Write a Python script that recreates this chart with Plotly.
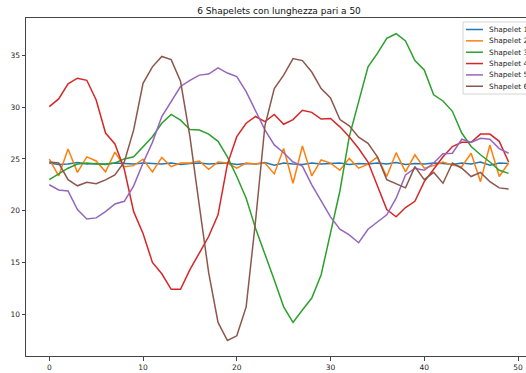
import plotly.graph_objects as go

# x positions of the 50 samples in each shapelet
steps = list(range(50))

series_names = ["Shapelet 1", "Shapelet 2", "Shapelet 3",
                "Shapelet 4", "Shapelet 5", "Shapelet 6"]

shapelet_1 = [24.6, 24.45, 24.5, 24.65, 24.5, 24.55, 24.45, 24.6, 24.55, 24.5,
              24.6, 24.55, 24.5, 24.6, 24.45, 24.55, 24.6, 24.5, 24.55, 24.6,
              24.45, 24.55, 24.5, 24.65, 24.4, 24.6, 24.5, 24.45, 24.6, 24.5,
              24.55, 24.6, 24.45, 24.55, 24.5, 24.6, 24.5, 24.65, 24.45, 24.55,
              24.5, 24.6, 24.55, 24.45, 24.6, 24.5, 24.7, 24.4, 24.6, 24.55]

shapelet_2 = [24.97, 23.35, 25.95, 23.7, 25.2, 24.8, 23.75, 25.65, 24.25, 24.35,
              24.97, 23.75, 25.15, 24.25, 24.6, 24.6, 24.8, 24.0, 24.7, 24.6,
              24.1, 24.6, 24.5, 24.6, 23.55, 26.0, 22.65, 26.25, 23.35, 24.9,
              24.6, 23.9, 25.05, 24.1, 24.5, 25.2, 23.3, 25.6, 23.75, 25.4,
              24.1, 24.35, 24.7, 24.4, 24.25, 25.55, 22.8, 26.35, 23.3, 24.6]

shapelet_3 = [23.0, 23.55, 24.1, 24.5, 24.6, 24.5, 24.5, 24.6, 25.0, 25.2,
              26.2, 27.15, 28.45, 29.3, 28.75, 27.85, 27.8, 27.4, 26.7, 25.2,
              23.3, 21.2, 18.3, 15.9, 13.3, 10.7, 9.2, 10.4, 11.55, 13.8,
              17.8, 21.9, 27.15, 30.5, 33.9, 35.2, 36.65, 37.1, 36.4, 34.5,
              33.6, 31.2, 30.6, 29.6, 27.5, 26.2, 25.4, 24.7, 23.9, 23.6]

shapelet_4 = [30.05, 30.8, 32.25, 32.8, 32.6, 30.7, 27.5, 26.45, 24.0, 19.9,
              17.8, 15.0, 13.9, 12.4, 12.4, 14.3, 15.9, 17.5, 19.6, 24.5,
              27.15, 28.45, 29.1, 28.6, 29.3, 28.35, 28.8, 29.7, 29.5, 28.85,
              28.9, 28.1, 27.15, 26.0, 24.7, 22.3, 20.1, 19.4, 20.3, 20.9,
              22.8, 24.0, 25.2, 26.2, 26.6, 26.6, 27.4, 27.4, 26.7, 24.7]

shapelet_5 = [22.5, 22.0, 21.9, 20.1, 19.2, 19.3, 19.9, 20.65, 20.9, 22.4,
              24.6, 26.6, 29.1, 30.5, 32.0, 32.6, 33.1, 33.2, 33.8, 33.3,
              32.95, 31.5, 29.7, 27.8, 26.35, 25.6, 24.7, 24.3, 22.5, 20.9,
              19.4, 18.2, 17.65, 16.9, 18.2, 18.9, 19.6, 21.2, 23.45, 24.1,
              23.9, 24.6, 25.5, 25.55, 26.9, 26.6, 27.0, 26.9, 26.0, 25.55]

shapelet_6 = [24.7, 24.6, 23.0, 22.4, 22.75, 22.6, 22.97, 23.45, 24.7, 27.8,
              32.3, 33.9, 34.9, 34.6, 32.5, 27.15, 20.5, 14.0, 9.2, 7.45,
              7.9, 10.7, 19.0, 28.2, 31.8, 33.1, 34.7, 34.5, 33.4, 31.8,
              30.9, 28.8, 28.2, 27.1, 26.5, 25.2, 23.0, 22.6, 22.2, 24.25,
              23.0, 23.7, 22.65, 24.6, 24.1, 23.3, 23.7, 22.8, 22.2, 22.1]

x_ticks = [0, 10, 20, 30, 40, 50]
y_ticks = [10, 15, 20, 25, 30, 35]

all_series = [shapelet_1, shapelet_2, shapelet_3, shapelet_4, shapelet_5, shapelet_6]
colors = ["#1f77b4", "#ff7f0e", "#2ca02c", "#d62728", "#9467bd", "#8c564b"]

W, H = 526, 373
ML, MR, MT, MB = 26, 0, 18, 17
plot_w = W - ML - MR
plot_h = H - MT - MB

FONT = "DejaVu Sans"
TEXT = "#262626"


def px(xpix):
    return (xpix - ML) / plot_w


def py(ypix):
    return (H - MB - ypix) / plot_h


fig = go.Figure()
for name, vals, col in zip(series_names, all_series, colors):
    fig.add_trace(go.Scatter(x=steps, y=vals, mode="lines", name=name,
                             line=dict(color=col, width=1.5),
                             showlegend=False))

# legend frame, handles and labels (upper right, running past the right edge)
shapes = [dict(type="rect", xref="paper", yref="paper",
               x0=px(463), x1=px(570), y0=py(94), y1=py(22),
               line=dict(color="#d4d4d4", width=1),
               fillcolor="rgba(255,255,255,0.85)", layer="above")]
annotations = []
row0, row_step = 29.5, 11.35
for i, (name, col) in enumerate(zip(series_names, colors)):
    yc = row0 + i * row_step
    shapes.append(dict(type="line", xref="paper", yref="paper",
                       x0=px(466), x1=px(483), y0=py(yc), y1=py(yc),
                       line=dict(color=col, width=1.5), layer="above"))
    annotations.append(dict(xref="paper", yref="paper", x=px(486.5), y=py(yc),
                            text=name, showarrow=False, xanchor="left",
                            yanchor="middle",
                            font=dict(family=FONT, size=7.3, color=TEXT)))

fig.update_layout(
    width=W, height=H,
    margin=dict(l=ML, r=MR, t=MT, b=MB, pad=0),
    paper_bgcolor="white", plot_bgcolor="white",
    title=dict(text="6 Shapelets con lunghezza pari a 50",
               x=279 / W, xref="container", xanchor="center",
               y=1 - 11 / H, yref="container", yanchor="middle",
               font=dict(family=FONT, size=9, color="#111")),
    shapes=shapes, annotations=annotations,
    xaxis=dict(range=[-2.486, 50.853], tickvals=x_ticks,
               showgrid=False, zeroline=False,
               showline=True, mirror=True, linecolor="#444", linewidth=1,
               ticks="outside", ticklen=3.5, tickwidth=1, tickcolor="#444",
               tickfont=dict(family=FONT, size=7.5, color=TEXT),
               automargin=False),
    yaxis=dict(range=[5.95, 38.62], tickvals=y_ticks,
               showgrid=False, zeroline=False,
               showline=True, mirror=False, linecolor="#444", linewidth=1,
               ticks="outside", ticklen=3.5, tickwidth=1, tickcolor="#444",
               tickfont=dict(family=FONT, size=7.5, color=TEXT),
               automargin=False),
)

fig.write_html("out.html")
